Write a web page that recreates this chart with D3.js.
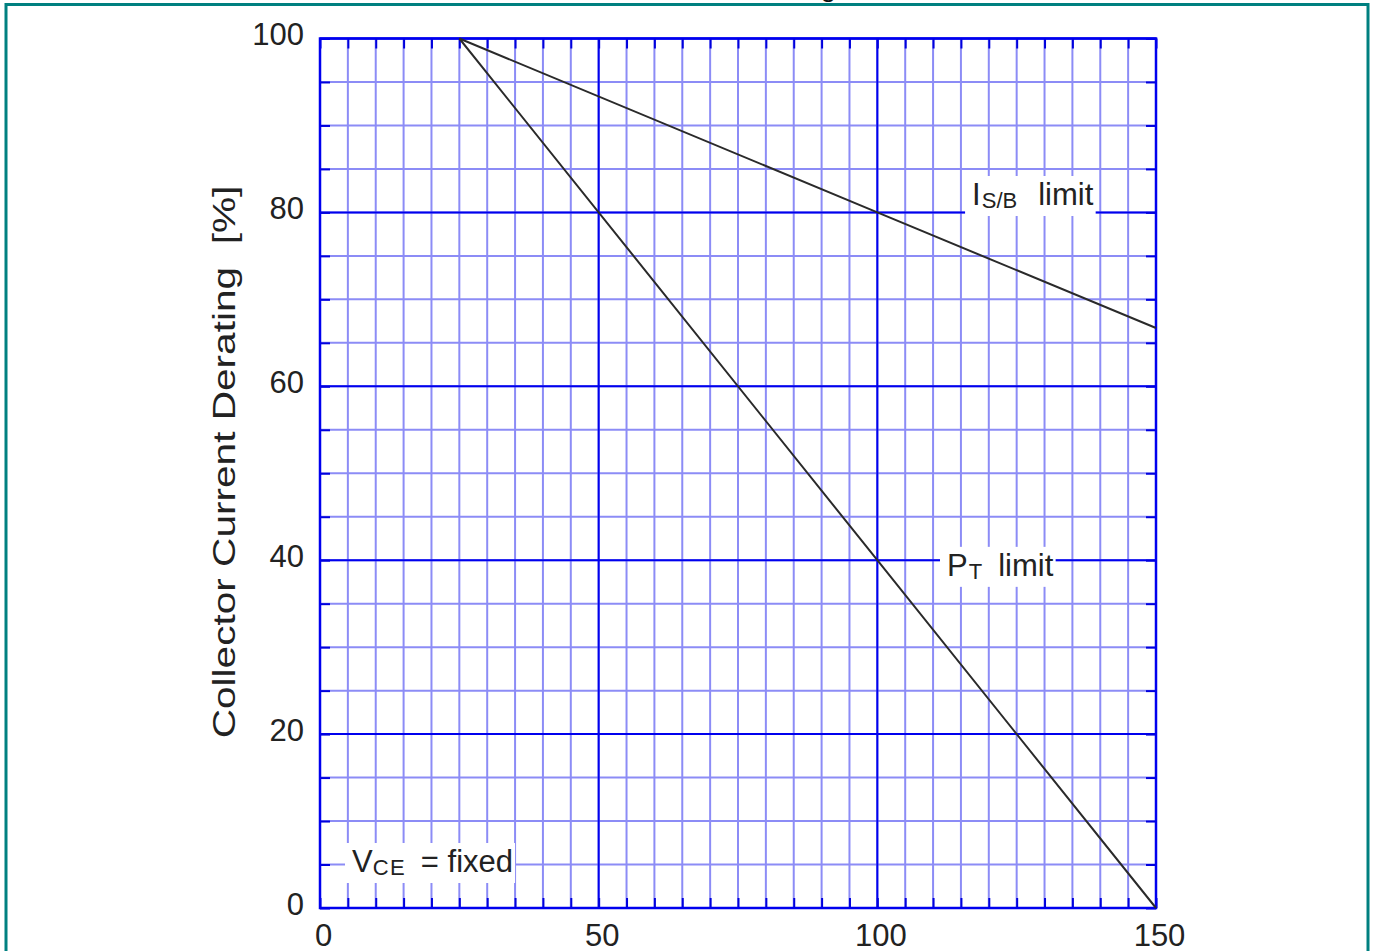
<!DOCTYPE html>
<html>
<head>
<meta charset="utf-8">
<script src="https://cdn.jsdelivr.net/npm/d3@7"></script>
<style>
  html, body { margin: 0; padding: 0; background: #fff; }
  svg { display: block; font-family: "Liberation Sans", Arial, sans-serif; }
</style>
</head>
<body>
<div id="chart"></div>
<script>
// data
const temps    = [25, 100, 150];
const isbLimit = [100, 80, 66.7];
const ptLimit  = [100, 40, 0];
const xTicks = [0, 50, 100, 150];
const yTicks = [0, 20, 40, 60, 80, 100];
const yTitle = "Collector Current Derating  [%]";

const W = 1376, H = 951;
const margin = {top: 38.5, right: 220, bottom: 43, left: 320};

const svg = d3.select("#chart").append("svg")
    .attr("width", W).attr("height", H);

const x = d3.scaleLinear().domain([0, 150]).range([margin.left, W - margin.right]);
const y = d3.scaleLinear().domain([0, 100]).range([H - margin.bottom, margin.top]);

// outer teal frame (bottom runs off the page)
svg.append("rect")
    .attr("x", 6).attr("y", 4.5).attr("width", 1362).attr("height", 980)
    .attr("fill", "none").attr("stroke", "#008080").attr("stroke-width", 3);

// title, cut off above the frame
svg.append("text")
    .attr("x", 836).attr("y", -4).attr("text-anchor", "end")
    .attr("font-size", 28).attr("fill", "#111")
    .text("Collector Current Derating");

// minor grid
const g = svg.append("g");
g.selectAll(".vx").data(x.ticks(30)).join("line")
    .attr("x1", d => x(d)).attr("x2", d => x(d))
    .attr("y1", y(0)).attr("y2", y(100))
    .attr("stroke", "#8c8cf6").attr("stroke-width", 2);
g.selectAll(".hy").data(y.ticks(20)).join("line")
    .attr("y1", d => y(d)).attr("y2", d => y(d))
    .attr("x1", x(0)).attr("x2", x(150))
    .attr("stroke", "#8c8cf6").attr("stroke-width", 2);

// major grid
g.selectAll(".mx").data(xTicks).join("line")
    .attr("x1", d => x(d)).attr("x2", d => x(d))
    .attr("y1", y(0)).attr("y2", y(100))
    .attr("stroke", "#0000ee").attr("stroke-width", 2);
g.selectAll(".my").data(yTicks).join("line")
    .attr("y1", d => y(d)).attr("y2", d => y(d))
    .attr("x1", x(0)).attr("x2", x(150))
    .attr("stroke", "#0000ee").attr("stroke-width", 2);

// inner tick marks on all four sides
function inner(axis) {
  return axis.ticks(0).tickFormat("").tickSizeInner(-10).tickSizeOuter(0);
}
const tickGroups = [
  svg.append("g").attr("transform", `translate(0,${y(0)})`).call(inner(d3.axisBottom(x)).tickValues(x.ticks(30))),
  svg.append("g").attr("transform", `translate(0,${y(100)})`).call(inner(d3.axisTop(x)).tickValues(x.ticks(30))),
  svg.append("g").attr("transform", `translate(${x(0)},0)`).call(inner(d3.axisLeft(y)).tickValues(y.ticks(20))),
  svg.append("g").attr("transform", `translate(${x(150)},0)`).call(inner(d3.axisRight(y)).tickValues(y.ticks(20)))
];
tickGroups.forEach(t => {
  t.select(".domain").remove();
  t.selectAll("line").attr("stroke", "#0000dd").attr("stroke-width", 2);
});

// plot frame
svg.append("rect")
    .attr("x", x(0)).attr("y", y(100))
    .attr("width", x(150) - x(0)).attr("height", y(0) - y(100))
    .attr("fill", "none").attr("stroke", "#0000ee").attr("stroke-width", 2.5);

// curves
const line = d3.line().x((d, i) => x(temps[i])).y(d => y(d));
svg.append("path").datum(isbLimit)
    .attr("d", line).attr("fill", "none")
    .attr("stroke", "#2a2a2a").attr("stroke-width", 2);
svg.append("path").datum(ptLimit)
    .attr("d", line).attr("fill", "none")
    .attr("stroke", "#2a2a2a").attr("stroke-width", 2);

// labels with white boxes
function label(xv, yv, main, sub, rest, subDx, pad, spacing) {
  const grp = svg.append("g");
  const bg = grp.append("rect").attr("fill", "#fff");
  const t = grp.append("text")
      .attr("x", x(xv)).attr("y", y(yv))
      .attr("font-size", 31).attr("fill", "#222");
  t.append("tspan").text(main);
  t.append("tspan").attr("font-size", 22).attr("dy", 3).attr("dx", subDx)
      .attr("letter-spacing", spacing).text(sub);
  t.append("tspan").attr("dy", -3).attr("dx", pad).text(rest);
  const b = t.node().getBBox();
  bg.attr("x", b.x - 7).attr("y", b.y - 1)
    .attr("width", b.width + 9).attr("height", b.height + 4);
}
label(117, 80.85, "I", "S/B", "limit", 1, 21, 0);
label(112.5, 38.2, "P", "T", "limit", 1, 16, 0);
label(5.74, 4.14, "V", "CE", " = fixed", 0, 6, 1.5);

// tick labels
const xl = svg.append("g").attr("transform", `translate(0,${y(0)})`)
    .call(d3.axisBottom(x).tickValues(xTicks).tickSize(0).tickPadding(16));
const yl = svg.append("g").attr("transform", `translate(${x(0)},0)`)
    .call(d3.axisLeft(y).tickValues(yTicks).tickSize(0).tickPadding(16));
[xl, yl].forEach(a => {
  a.select(".domain").remove();
  a.selectAll("text").attr("font-size", 31).attr("fill", "#222")
    .attr("font-family", "Liberation Sans, Arial, sans-serif");
});
xl.selectAll("text").attr("dx", 3);
yl.selectAll("text").attr("dy", "0.2em");

// y axis title (stretched along its length as in the source)
svg.append("text")
    .attr("transform", `translate(235,462) rotate(-90) scale(1.31,1)`)
    .attr("text-anchor", "middle").attr("font-size", 31).attr("fill", "#222")
    .style("white-space", "pre")
    .text(yTitle);
</script>
</body>
</html>
